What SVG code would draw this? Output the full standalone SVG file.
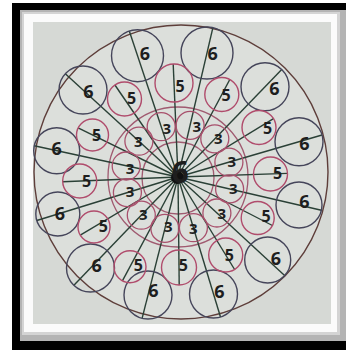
<svg xmlns="http://www.w3.org/2000/svg" width="346" height="352" viewBox="0 0 346 352">
<style>
.c6{fill:none;stroke:#45455a;stroke-width:1.4}
.c5{fill:none;stroke:#b04c6c;stroke-width:1.4}
.c3{fill:none;stroke:#a8506c;stroke-width:1.3}
.ring{fill:none;stroke:#a05a70;stroke-width:1.3}
.ray{stroke:#2a4036;stroke-width:1.4;fill:none}
.t{font-family:"Open Sans","Liberation Sans",sans-serif;font-weight:bold;fill:#1e1e1e;text-anchor:middle}
.t6{font-size:18px}
.t5{font-size:16px}
.t3{font-size:15px}
</style>
<rect x="0" y="0" width="346" height="352" fill="#ffffff"/>
<rect x="12" y="3" width="334" height="347" fill="#000000"/>
<rect x="20" y="10" width="326" height="331" fill="#b4b4b4"/>
<rect x="22" y="12" width="318" height="323" fill="#d4d4d4"/>
<rect x="24" y="14" width="313" height="318" fill="#fbfbfb"/>
<rect x="33" y="22" width="298" height="302" fill="#d6d9d5"/>
<circle cx="181" cy="172" r="147" fill="#dcdfdb" stroke="#5e3e3a" stroke-width="1.4"/>
<g id="rings">
<circle class="ring" cx="178" cy="178" r="36"/>
<circle class="ring" cx="178" cy="177" r="70"/>
</g>
<g id="connectors">
<line class="ray" x1="178" y1="177" x2="129.3" y2="31.0"/>
<line class="ray" x1="178" y1="177" x2="212.9" y2="27.7"/>
<line class="ray" x1="178" y1="177" x2="281.7" y2="69.4"/>
<line class="ray" x1="178" y1="177" x2="322.0" y2="135.0"/>
<line class="ray" x1="178" y1="177" x2="321.4" y2="210.2"/>
<line class="ray" x1="178" y1="177" x2="284.6" y2="275.6"/>
<line class="ray" x1="178" y1="177" x2="220.5" y2="317.0"/>
<line class="ray" x1="178" y1="177" x2="142.1" y2="318.3"/>
<line class="ray" x1="178" y1="177" x2="73.9" y2="285.3"/>
<line class="ray" x1="178" y1="177" x2="36.8" y2="220.5"/>
<line class="ray" x1="178" y1="177" x2="34.2" y2="145.8"/>
<line class="ray" x1="178" y1="177" x2="65.3" y2="73.8"/>
<line class="ray" x1="178" y1="177" x2="173.2" y2="64.0"/>
<line class="ray" x1="178" y1="177" x2="229.8" y2="79.5"/>
<line class="ray" x1="178" y1="177" x2="273.5" y2="118.6"/>
<line class="ray" x1="178" y1="177" x2="287.5" y2="173.4"/>
<line class="ray" x1="178" y1="177" x2="272.4" y2="225.5"/>
<line class="ray" x1="178" y1="177" x2="234.6" y2="269.5"/>
<line class="ray" x1="178" y1="177" x2="179.2" y2="285.0"/>
<line class="ray" x1="178" y1="177" x2="122.4" y2="280.8"/>
<line class="ray" x1="178" y1="177" x2="80.3" y2="235.2"/>
<line class="ray" x1="178" y1="177" x2="62.7" y2="181.7"/>
<line class="ray" x1="178" y1="177" x2="78.1" y2="127.9"/>
<line class="ray" x1="178" y1="177" x2="114.9" y2="85.0"/>
</g>
<g id="outer6-1"><circle class="c6" cx="137.5" cy="55.7" r="26"/><text class="t t6" x="145" y="59.8">6</text></g>
<g id="outer6-2"><circle class="c6" cx="207" cy="53" r="26"/><text class="t t6" x="212.7" y="59.8">6</text></g>
<g id="outer6-3"><circle class="c6" cx="265" cy="86.7" r="24"/><text class="t t6" x="274.3" y="94.8">6</text></g>
<g id="outer6-4"><circle class="c6" cx="299" cy="141.7" r="24"/><text class="t t6" x="304.3" y="149.8">6</text></g>
<g id="outer6-5"><circle class="c6" cx="299" cy="205" r="23"/><text class="t t6" x="304.3" y="208.2">6</text></g>
<g id="outer6-6"><circle class="c6" cx="267.7" cy="260" r="23"/><text class="t t6" x="276" y="264.8">6</text></g>
<g id="outer6-7"><circle class="c6" cx="213.5" cy="294" r="24"/><text class="t t6" x="219.3" y="298.2">6</text></g>
<g id="outer6-8"><circle class="c6" cx="148" cy="295" r="24"/><text class="t t6" x="153.3" y="296.5">6</text></g>
<g id="outer6-9"><circle class="c6" cx="90.5" cy="268" r="24"/><text class="t t6" x="96.7" y="271.5">6</text></g>
<g id="outer6-10"><circle class="c6" cx="57.8" cy="214" r="22"/><text class="t t6" x="60" y="219.8">6</text></g>
<g id="outer6-11"><circle class="c6" cx="56.7" cy="150.7" r="23"/><text class="t t6" x="56.7" y="154.8">6</text></g>
<g id="outer6-12"><circle class="c6" cx="83" cy="90" r="24"/><text class="t t6" x="88.3" y="98.2">6</text></g>
<g id="mid5-1"><circle class="c5" cx="174" cy="83" r="19"/><text class="t t5" x="180" y="92.4">5</text></g>
<g id="mid5-2"><circle class="c5" cx="221.8" cy="94.5" r="17"/><text class="t t5" x="226" y="100.7">5</text></g>
<g id="mid5-3"><circle class="c5" cx="259" cy="127.5" r="17"/><text class="t t5" x="267.7" y="134">5</text></g>
<g id="mid5-4"><circle class="c5" cx="270.5" cy="174" r="17"/><text class="t t5" x="277.7" y="179">5</text></g>
<g id="mid5-5"><circle class="c5" cx="257.7" cy="218" r="16.5"/><text class="t t5" x="266" y="222.4">5</text></g>
<g id="mid5-6"><circle class="c5" cx="225.7" cy="255" r="17"/><text class="t t5" x="229.3" y="260.7">5</text></g>
<g id="mid5-7"><circle class="c5" cx="179" cy="267.5" r="17.5"/><text class="t t5" x="183.3" y="270.7">5</text></g>
<g id="mid5-8"><circle class="c5" cx="130" cy="266.7" r="16"/><text class="t t5" x="138.3" y="270.7">5</text></g>
<g id="mid5-9"><circle class="c5" cx="94" cy="227" r="16"/><text class="t t5" x="103.3" y="232.4">5</text></g>
<g id="mid5-10"><circle class="c5" cx="79.7" cy="181" r="17"/><text class="t t5" x="86.7" y="187.4">5</text></g>
<g id="mid5-11"><circle class="c5" cx="92.5" cy="135" r="16"/><text class="t t5" x="96.7" y="140.7">5</text></g>
<g id="mid5-12"><circle class="c5" cx="124.5" cy="99" r="17"/><text class="t t5" x="131.7" y="104">5</text></g>
<g id="inner3-1"><circle class="c3" cx="161.2" cy="126.7" r="14"/><text class="t t3" x="166.7" y="133.7">3</text></g>
<g id="inner3-2"><circle class="c3" cx="190.1" cy="125.4" r="14"/><text class="t t3" x="196.7" y="132.1">3</text></g>
<g id="inner3-3"><circle class="c3" cx="214.8" cy="138.8" r="14"/><text class="t t3" x="218.3" y="143.7">3</text></g>
<g id="inner3-4"><circle class="c3" cx="228.9" cy="162.2" r="14"/><text class="t t3" x="231.7" y="167.1">3</text></g>
<g id="inner3-5"><circle class="c3" cx="229.6" cy="188.9" r="14"/><text class="t t3" x="233.3" y="193.7">3</text></g>
<g id="inner3-6"><circle class="c3" cx="216.9" cy="213.0" r="14"/><text class="t t3" x="221.7" y="218.7">3</text></g>
<g id="inner3-7"><circle class="c3" cx="193.4" cy="227.7" r="14"/><text class="t t3" x="193.3" y="233.7">3</text></g>
<g id="inner3-8"><circle class="c3" cx="164.9" cy="228.4" r="14"/><text class="t t3" x="168.3" y="232.1">3</text></g>
<g id="inner3-9"><circle class="c3" cx="141.3" cy="215.2" r="14"/><text class="t t3" x="143.3" y="220.4">3</text></g>
<g id="inner3-10"><circle class="c3" cx="127.4" cy="192.6" r="14"/><text class="t t3" x="130" y="197.1">3</text></g>
<g id="inner3-11"><circle class="c3" cx="126.2" cy="166.0" r="14"/><text class="t t3" x="130" y="173.7">3</text></g>
<g id="inner3-12"><circle class="c3" cx="138.9" cy="141.2" r="14"/><text class="t t3" x="138.3" y="147.1">3</text></g>
<g id="center">
<circle cx="177.5" cy="177.5" r="6.5" fill="#111"/>
<text class="t" x="180" y="183.3" font-size="30">6</text>
</g>
</svg>
